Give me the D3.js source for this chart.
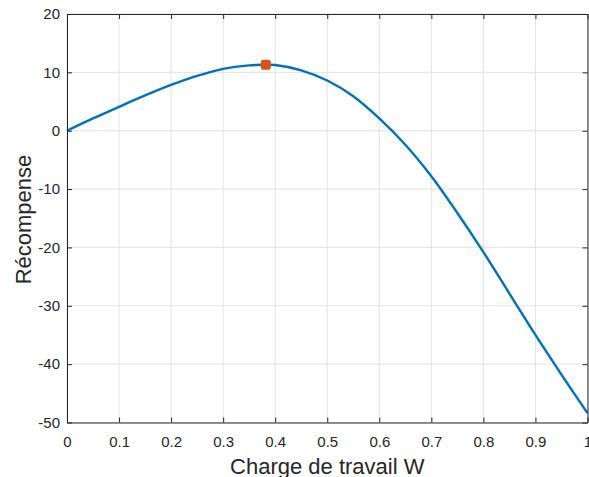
<!DOCTYPE html>
<html>
<head>
<meta charset="utf-8">
<script src="https://cdn.jsdelivr.net/npm/d3@7"></script>
<style>
  html, body { margin: 0; padding: 0; background: #fff; }
  svg { display: block; font-family: "Liberation Sans", Arial, Helvetica, sans-serif; }
</style>
</head>
<body>
<svg id="chart" width="589" height="477"></svg>
<script>
// Workload W and the reward it yields
const workload = [0, 0.05, 0.1, 0.15, 0.2, 0.25, 0.3, 0.35, 0.38, 0.4, 0.45, 0.5, 0.55, 0.6, 0.65, 0.7, 0.75, 0.8, 0.85, 0.9, 0.95, 1.0];
const reward   = [0, 2.1, 4.1, 6.05, 7.85, 9.4, 10.6, 11.2, 11.3, 11.25, 10.35, 8.6, 5.9, 2.1, -2.4, -7.8, -14.1, -20.8, -27.9, -35.0, -41.8, -48.4];

// Optimum point
const optimumW = [0.382];
const optimumR = [11.3];

const xTicks = [0, 0.1, 0.2, 0.3, 0.4, 0.5, 0.6, 0.7, 0.8, 0.9, 1];
const xTickLabels = ["0", "0.1", "0.2", "0.3", "0.4", "0.5", "0.6", "0.7", "0.8", "0.9", "1"];
const yTicks = [-50, -40, -30, -20, -10, 0, 10, 20];
const yTickLabels = ["-50", "-40", "-30", "-20", "-10", "0", "10", "20"];

const xLabel = "Charge de travail W";
const yLabel = "Récompense";

const svg = d3.select("#chart");
const plotLeft = 67, plotRight = 587.5, plotTop = 14, plotBottom = 422.5;

const x = d3.scaleLinear().domain([0, 1]).range([plotLeft, plotRight]);
const y = d3.scaleLinear().domain([-50, 20]).range([plotBottom, plotTop]);

const axisColor = "#262626";
const gridColor = "#e3e3e3";

// grid
const grid = svg.append("g");
grid.selectAll("line.gx").data(xTicks).join("line")
  .attr("class", "gx")
  .attr("x1", d => x(d)).attr("x2", d => x(d))
  .attr("y1", plotTop).attr("y2", plotBottom)
  .attr("stroke", gridColor).attr("stroke-width", 1);
grid.selectAll("line.gy").data(yTicks).join("line")
  .attr("class", "gy")
  .attr("x1", plotLeft).attr("x2", plotRight)
  .attr("y1", d => y(d)).attr("y2", d => y(d))
  .attr("stroke", gridColor).attr("stroke-width", 1);

// curve
const line = d3.line()
  .x((d, i) => x(workload[i]))
  .y(d => y(d))
  .curve(d3.curveCatmullRom.alpha(0.5));
svg.append("path")
  .datum(reward)
  .attr("d", line)
  .attr("fill", "none")
  .attr("stroke", "#0072BD")
  .attr("stroke-width", 2.4)
  .attr("stroke-linejoin", "round");

// optimum marker
svg.selectAll("rect.opt").data(optimumW).join("rect")
  .attr("class", "opt")
  .attr("x", d => x(d) - 5)
  .attr("y", (d, i) => y(optimumR[i]) - 5)
  .attr("width", 10).attr("height", 10)
  .attr("rx", 2.5)
  .attr("fill", "#D95319");

// axes (ticks pointing inward on all four sides)
const tickLen = 5;
const fmtX = (d, i) => xTickLabels[i];
const fmtY = (d, i) => yTickLabels[i];

const gx = svg.append("g").attr("transform", `translate(0,${plotBottom})`)
  .call(d3.axisBottom(x).tickValues(xTicks).tickFormat(fmtX).tickSizeInner(-tickLen).tickSizeOuter(0).tickPadding(13.5));
const gxt = svg.append("g").attr("transform", `translate(0,${plotTop})`)
  .call(d3.axisTop(x).tickValues(xTicks).tickFormat("").tickSizeInner(-tickLen).tickSizeOuter(0));
const gy = svg.append("g").attr("transform", `translate(${plotLeft},0)`)
  .call(d3.axisLeft(y).tickValues(yTicks).tickFormat(fmtY).tickSizeInner(-tickLen).tickSizeOuter(0).tickPadding(7));
const gyr = svg.append("g").attr("transform", `translate(${plotRight},0)`)
  .call(d3.axisRight(y).tickValues(yTicks).tickFormat("").tickSizeInner(-tickLen).tickSizeOuter(0));

[gx, gxt, gy, gyr].forEach(g => {
  g.select(".domain").attr("stroke", axisColor).attr("stroke-width", 1);
  g.selectAll(".tick line").attr("stroke", axisColor).attr("stroke-width", 1);
  g.selectAll(".tick text").attr("fill", axisColor)
    .style("font-size", "15px").style("font-family", "'Liberation Sans', Arial, sans-serif");
});

// axis labels
svg.append("text")
  .attr("x", (plotLeft + plotRight) / 2).attr("y", 474)
  .attr("text-anchor", "middle")
  .attr("fill", axisColor)
  .style("font-size", "22px")
  .text(xLabel);

svg.append("text")
  .attr("transform", `translate(31,219.5) rotate(-90)`)
  .attr("text-anchor", "middle")
  .attr("fill", axisColor)
  .style("font-size", "22px")
  .text(yLabel);
</script>
</body>
</html>
